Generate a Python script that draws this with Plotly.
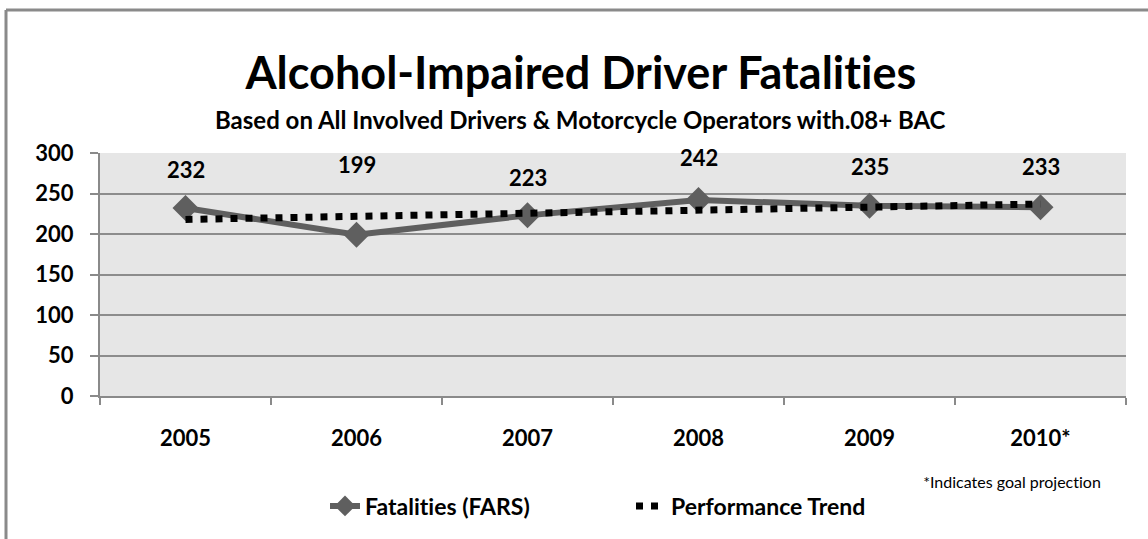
import plotly.graph_objects as go

years = ["2005", "2006", "2007", "2008", "2009", "2010*"]
fatalities = [232, 199, 223, 242, 235, 233]
trend = [218, 222, 225, 229, 233, 237]
label_y = [280, 286, 270, 294, 283, 283]  # positions of value labels (data units)

W, H = 1148, 539
L, R, T, B = 100, 22, 153, 143
PW, PH = W - L - R, H - T - B


def px_x(x):
    return (x - L) / PW


def px_y(y):
    return (H - B - y) / PH


FONT = "Lato"
fig = go.Figure()
fig.add_trace(go.Scatter(
    x=years, y=fatalities, name="Fatalities (FARS)", mode="lines+markers",
    line=dict(color="#5f5f5f", width=6),
    marker=dict(symbol="diamond", size=20, color="#5f5f5f"),
))
fig.add_trace(go.Scatter(
    x=years, y=trend, name="Performance Trend", mode="lines",
    line=dict(color="#000000", width=7, dash="7px,8px"),
))

for i, (v, ly) in enumerate(zip(fatalities, label_y)):
    fig.add_annotation(x=i, y=ly, text=str(v), showarrow=False,
                       font=dict(family=FONT, size=22, color="black", weight="bold"))

fig.add_annotation(xref="paper", yref="paper", x=px_x(580), y=px_y(72), text="Alcohol-Impaired Driver Fatalities",
                   showarrow=False, font=dict(family=FONT, size=45, color="black", weight="bold"),
                   xanchor="center", yanchor="middle")
fig.add_annotation(xref="paper", yref="paper", x=px_x(580), y=px_y(119),
                   text="Based on All Involved Drivers & Motorcycle Operators with.08+ BAC",
                   showarrow=False, font=dict(family=FONT, size=24, color="black", weight="bold"),
                   xanchor="center", yanchor="middle")
fig.add_annotation(xref="paper", yref="paper", x=px_x(1103), y=px_y(481),
                   text="*Indicates goal projection", showarrow=False,
                   font=dict(family=FONT, size=16, color="black"), xanchor="right", yanchor="middle")

border = dict(color="#8a8a8a", width=3)
fig.add_shape(type="line", xref="paper", yref="paper", x0=px_x(6), x1=px_x(W + 5), y0=px_y(10), y1=px_y(10), line=border)
fig.add_shape(type="line", xref="paper", yref="paper", x0=px_x(6), x1=px_x(6), y0=px_y(10), y1=px_y(H + 5), line=border)

fig.update_layout(
    width=W, height=H, margin=dict(l=L, r=R, t=T, b=B),
    paper_bgcolor="white", plot_bgcolor="#e6e6e6",
    font=dict(family=FONT, color="black"),
    showlegend=True,
    legend=dict(orientation="h", x=px_x(325), xanchor="left", y=px_y(506), yanchor="middle",
                font=dict(family=FONT, size=23, color="black", weight="bold"),
                entrywidth=261, bgcolor="rgba(0,0,0,0)"),
    xaxis=dict(type="category", tickson="boundaries", ticks="outside", ticklen=7, tickwidth=2,
               tickcolor="#8a8a8a", showline=True, linecolor="#8a8a8a", linewidth=2,
               showgrid=False, tickfont=dict(family=FONT, size=22, color="black", weight="bold"),
               ticklabelstandoff=22, range=[-0.5, 5.5]),
    yaxis=dict(range=[0, 300], dtick=50, ticks="outside", ticklen=8, tickwidth=2,
               tickcolor="#8a8a8a", showline=True, linecolor="#8a8a8a", linewidth=2,
               gridcolor="#8c8c8c", gridwidth=1.5, zeroline=False,
               tickfont=dict(family=FONT, size=22, color="black", weight="bold"),
               ticklabelstandoff=12),
)

post = ("document.body.style.margin='0px';"
        "var s=document.createElement('style');"
        "s.innerHTML='text{font-variant-ligatures:none !important;font-feature-settings:\"liga\" 0,\"clig\" 0 !important;}';"
        "document.head.appendChild(s);")
fig.write_html("out.html", post_script=post, config={"displayModeBar": False})
